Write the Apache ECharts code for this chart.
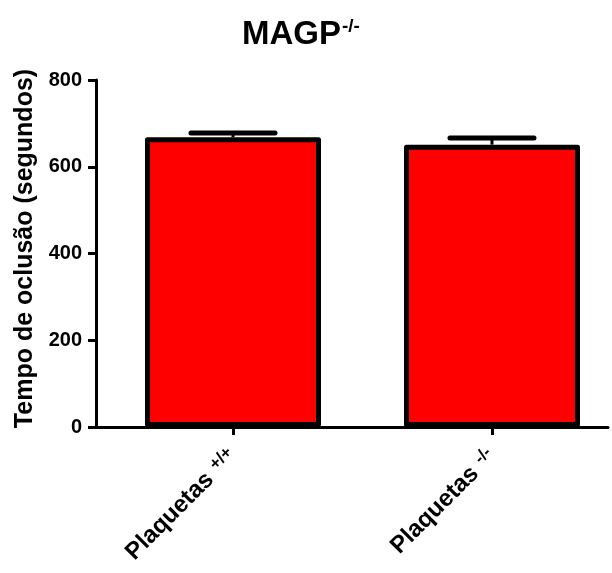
<!DOCTYPE html>
<html>
<head>
<meta charset="utf-8">
<script src="https://cdn.jsdelivr.net/npm/echarts@6/dist/echarts.min.js"></script>
<style>
  html, body { margin: 0; padding: 0; background: #fff; }
  #chart { width: 612px; height: 573px; }
</style>
</head>
<body>
<div id="chart"></div>
<script>
// data
const groups = ["Plaquetas", "Plaquetas"];
const groupSup = ["+/+", "-/-"];
const means = [668, 651];
const sem = [10, 15];
const yTicks = [0, 200, 400, 600, 800];

const FONT = "Liberation Sans";

const chart = echarts.init(document.getElementById("chart"));

const barData = means.map((v, i) => [i, v]);
const errData = means.map((v, i) => [i, v, v + sem[i]]);

chart.setOption({
  animation: false,
  backgroundColor: "#fff",
  title: {
    text: "{m|MAGP}{s|-/-}",
    left: 237,
    top: 12,
    textStyle: {
      rich: {
        m: { fontFamily: FONT, fontWeight: "bold", fontSize: 33, color: "#000" },
        s: { fontFamily: FONT, fontWeight: "bold", fontSize: 19, color: "#000", padding: [0, 0, 16, 1] }
      }
    }
  },
  grid: { left: 96, right: 4, top: 80, bottom: 146 },
  xAxis: {
    type: "value",
    min: -0.529,
    max: 1.448,
    splitLine: { show: false },
    axisLine: { show: true, onZero: false, lineStyle: { color: "#000", width: 3 } },
    axisTick: { show: true, customValues: [0, 1], length: 8, lineStyle: { color: "#000", width: 3 } },
    axisLabel: {
      customValues: [0, 1],
      rotate: 45,
      margin: 26,
      formatter: v => {
        const i = Math.round(v);
        return "{b|" + groups[i] + "}{s|" + groupSup[i] + "}";
      },
      rich: {
        b: { fontFamily: FONT, fontWeight: "bold", fontSize: 24, color: "#000" },
        s: { fontFamily: FONT, fontWeight: "bold", fontSize: 17, color: "#000", padding: [0, 0, 9, 8] }
      }
    }
  },
  yAxis: {
    type: "value",
    min: 0,
    max: 800,
    interval: 200,
    splitLine: { show: false },
    axisLine: { show: true, onZero: false, lineStyle: { color: "#000", width: 3 } },
    axisTick: { show: true, length: 8, lineStyle: { color: "#000", width: 3 } },
    axisLabel: {
      margin: 14,
      fontFamily: FONT,
      fontWeight: "bold",
      fontSize: 20,
      color: "#000",
      customValues: yTicks
    },
    name: "Tempo de oclusão (segundos)",
    nameLocation: "middle",
    nameGap: 56,
    nameTextStyle: { fontFamily: FONT, fontWeight: "bold", fontSize: 25, color: "#000", padding: [0, 0, 0, 10] }
  },
  series: [
    {
      type: "bar",
      data: barData,
      barWidth: 176,
      itemStyle: { color: "#ff0000", borderColor: "#000", borderWidth: 5, borderJoin: "round" },
      z: 2
    },
    {
      type: "custom",
      data: errData,
      z: 3,
      renderItem: (params, api) => {
        const x = api.value(0);
        const base = api.coord([x, api.value(1)]);
        const top = api.coord([x, api.value(2)]);
        return {
          type: "group",
          children: [
            {
              type: "line",
              shape: { x1: base[0], y1: base[1], x2: top[0], y2: top[1] },
              style: { stroke: "#000", lineWidth: 3 }
            },
            {
              type: "line",
              shape: { x1: top[0] - 42, y1: top[1], x2: top[0] + 42, y2: top[1] },
              style: { stroke: "#000", lineWidth: 5, lineCap: "round" }
            }
          ]
        };
      }
    }
  ]
});
</script>
</body>
</html>
